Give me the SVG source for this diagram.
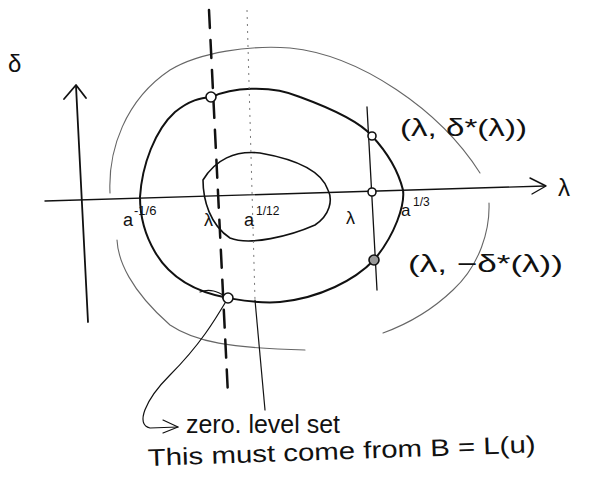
<svg xmlns="http://www.w3.org/2000/svg" width="589" height="495" viewBox="0 0 589 495">
<style>
.ink{fill:none;stroke:#111;stroke-linecap:round;stroke-linejoin:round}
.faint{fill:none;stroke:#666;stroke-width:1.1;stroke-linecap:round}
.t{font-family:"Liberation Sans","DejaVu Sans",sans-serif;fill:#111}
.mk{fill:#fff;stroke:#111;stroke-width:1.6}
</style>
<rect width="589" height="495" fill="#fff"/>
<g id="axes">
<path class="ink" stroke-width="1.4" d="M45,201 L545,186"/>
<path class="ink" stroke-width="1.4" d="M530,178 L546,186 L532,194"/>
<path class="ink" stroke-width="1.8" d="M88,322 L76,86"/>
<path class="ink" stroke-width="1.8" d="M64,99 L76,85 L86,98"/>
</g>
<g id="outer-curve">
<path class="faint" d="M110,193 C108,150 125,100 170,70 C200,52 250,45 290,48 C360,55 440,110 480,173"/>
<path class="faint" d="M489,203 C490,230 480,265 453,290 C430,312 405,325 383,333"/>
<path class="faint" d="M117,240 C118,260 130,290 170,325 C195,342 230,348 305,350"/>
</g>
<g id="middle-curve">
<path class="ink" stroke-width="2" d="M212,97 C230,88 270,84 300,97 C330,108 360,122 372,136 C385,150 398,170 403,190 C405,205 395,235 374,260 C355,280 320,298 280,302 C260,304 240,300 228,298 C195,292 170,278 155,252 C145,235 140,215 140,197 C142,165 155,130 175,112 C190,100 200,98 212,97 Z"/>
</g>
<g id="inner-curve">
<path class="ink" stroke-width="1.6" d="M203,180 C203,200 210,225 230,238 C250,246 290,236 315,225 C330,215 333,200 328,190 C322,172 300,160 260,153 C235,150 215,160 203,180 Z"/>
</g>
<g id="lines">
<path class="ink" stroke-width="2.5" stroke-dasharray="18 12" d="M209,10 L228,395"/>
<path fill="none" stroke="#777" stroke-width="1" stroke-dasharray="2 5" d="M247,10 L255,300"/>
<path class="ink" stroke-width="1.2" d="M255,300 L265,410"/>
<path class="ink" stroke-width="1.3" d="M367,107 L377,290"/>
<path class="ink" stroke-width="1.2" d="M228,298 C215,320 200,345 170,375 C145,400 135,425 150,428 L178,427"/>
<path class="ink" stroke-width="1.2" d="M163,420 L178,427 L163,433"/>
<path class="ink" stroke-width="1.2" d="M200,292 C210,288 218,292 225,296"/>
</g>
<g id="markers">
<circle class="mk" cx="211" cy="97" r="5"/>
<circle class="mk" cx="372" cy="136" r="4"/>
<circle class="mk" cx="372" cy="192" r="4"/>
<circle cx="374" cy="260" r="5" fill="#999" stroke="#111" stroke-width="1.6"/>
<circle class="mk" cx="228" cy="298" r="5"/>
</g>
<g id="labels">
<text class="t" x="8" y="72" font-size="24">δ</text>
<text class="t" x="558" y="196" font-size="24">λ</text>
<text class="t" x="123" y="226" font-size="18">a</text>
<text class="t" x="134" y="215" font-size="13">-1/6</text>
<text class="t" x="204" y="226" font-size="18">λ</text>
<text class="t" x="244" y="226" font-size="18">a</text>
<text class="t" x="256" y="215" font-size="12">1/12</text>
<text class="t" x="346" y="224" font-size="18">λ</text>
<text class="t" x="401" y="216" font-size="17">a</text>
<text class="t" x="413" y="206" font-size="12">1/3</text>
<text class="t" x="400" y="136" font-size="24" textLength="127" lengthAdjust="spacingAndGlyphs">(λ, δ*(λ))</text>
<text class="t" x="408" y="272" font-size="24" textLength="155" lengthAdjust="spacingAndGlyphs">(λ, −δ*(λ))</text>
<text class="t" x="186" y="433" font-size="25" textLength="154" lengthAdjust="spacingAndGlyphs">zero. level set</text>
<text class="t" x="148" y="466" font-size="24" textLength="388" lengthAdjust="spacingAndGlyphs" transform="rotate(-2 148 466)">This must come from B = L(u)</text>
</g>
</svg>
